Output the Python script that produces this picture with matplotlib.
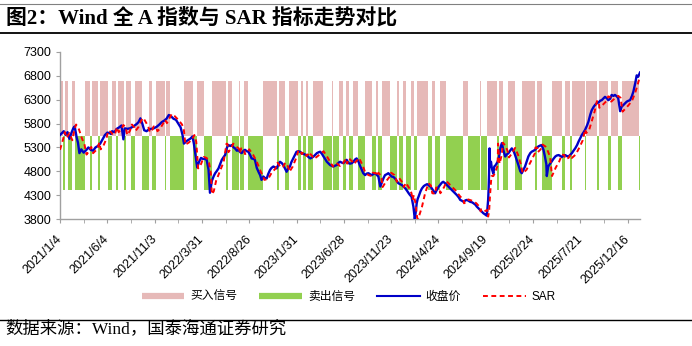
import numpy as np
import matplotlib.pyplot as plt
from matplotlib.lines import Line2D

plt.rcParams['font.family'] = ['Liberation Sans', 'Noto Sans CJK SC']

# ========================
# Datos
# ========================

n_days = 1227
tick_labels = ["2021/1/4", "2021/6/4", "2021/11/3", "2022/3/31", "2022/8/26",
               "2023/1/31", "2023/6/28", "2023/11/23", "2024/4/24", "2024/9/19",
               "2025/2/24", "2025/7/21", "2025/12/16"]

# (índice de día hábil, cierre Wind 全A)
close_pts = [
    (0, 5560), (4, 5600), (8, 5640), (12, 5560), (16, 5620), (20, 5480), (24, 5600), (28, 5700),
    (31, 5740), (35, 5520), (38, 5400), (41, 5180), (45, 5260), (50, 5190), (55, 5240), (60, 5300),
    (65, 5250), (70, 5230), (75, 5300), (80, 5330), (85, 5380), (90, 5470), (95, 5560), (100, 5610),
    (105, 5600), (108, 5580), (110, 5640), (115, 5620), (120, 5690), (125, 5720), (130, 5760),
    (134, 5470), (137, 5700), (142, 5690), (148, 5700), (155, 5740), (162, 5790), (166, 5830),
    (170, 5910), (174, 5800), (178, 5660), (183, 5640), (188, 5680), (193, 5690), (198, 5700),
    (204, 5730), (210, 5780), (215, 5830), (220, 5860), (225, 5900), (230, 5980), (235, 5950),
    (240, 5900), (245, 5880), (250, 5800), (255, 5720), (259, 5560), (262, 5380), (266, 5420),
    (270, 5450), (275, 5480), (280, 5530), (283, 5380), (287, 5100), (290, 4880), (294, 5000),
    (298, 5080), (302, 5060), (306, 5060), (310, 5040), (314, 4830), (317, 4350), (321, 4600),
    (325, 4700), (328, 4760), (331, 4800), (335, 4860), (339, 4960), (342, 5040), (346, 5100),
    (349, 5140), (353, 5300), (356, 5350), (360, 5330), (363, 5350), (367, 5300), (370, 5280),
    (374, 5230), (377, 5250), (381, 5200), (384, 5180), (388, 5230), (391, 5250), (395, 5220),
    (398, 5210), (402, 5140), (405, 5070), (409, 5060), (412, 5040), (416, 4870), (420, 4780),
    (423, 4720), (426, 4620), (430, 4690), (433, 4660), (437, 4650), (440, 4740), (444, 4830),
    (447, 4870), (451, 4900), (455, 4880), (458, 4860), (462, 4950), (465, 5000), (469, 4970),
    (472, 4930), (476, 4850), (479, 4790), (482, 4850), (486, 4900), (489, 4990), (493, 5070),
    (497, 5150), (500, 5210), (504, 5220), (507, 5210), (511, 5180), (514, 5170), (518, 5150),
    (522, 5140), (525, 5100), (529, 5070), (533, 5090), (536, 5110), (540, 5150), (543, 5180),
    (547, 5200), (550, 5210), (554, 5160), (557, 5110), (561, 5050), (564, 5000), (568, 4960),
    (571, 4930), (575, 4910), (578, 4900), (582, 4920), (585, 4930), (589, 4980), (592, 5000),
    (596, 4980), (599, 4970), (603, 5010), (606, 5040), (610, 4970), (613, 4960), (617, 4970),
    (620, 5000), (624, 5050), (627, 5070), (631, 5000), (634, 4920), (638, 4830), (641, 4760),
    (645, 4720), (648, 4750), (652, 4760), (655, 4740), (659, 4720), (662, 4740), (666, 4760),
    (670, 4720), (673, 4690), (677, 4480), (681, 4580), (684, 4660), (687, 4720), (691, 4740),
    (694, 4760), (698, 4720), (701, 4690), (705, 4680), (708, 4650), (712, 4600), (715, 4550),
    (719, 4530), (723, 4510), (726, 4480), (730, 4440), (733, 4400), (737, 4340), (740, 4300),
    (743, 4270), (747, 4060), (750, 3800), (752, 3950), (754, 4130), (756, 4220), (758, 4270),
    (762, 4380), (765, 4440), (769, 4490), (772, 4510), (776, 4530), (779, 4510), (783, 4480),
    (786, 4440), (790, 4380), (793, 4340), (796, 4400), (800, 4470), (803, 4510), (807, 4560),
    (810, 4580), (814, 4550), (818, 4510), (821, 4480), (825, 4440), (829, 4400), (832, 4370),
    (836, 4330), (839, 4300), (843, 4250), (846, 4200), (850, 4180), (853, 4160), (857, 4190),
    (860, 4200), (864, 4180), (867, 4160), (871, 4150), (874, 4130), (878, 4100), (881, 4060),
    (885, 4020), (888, 3990), (892, 3950), (895, 3920), (898, 3900), (902, 3870), (903, 3960),
    (905, 4200), (906, 4420), (907, 4750), (908, 5280), (909, 4900), (911, 5000), (913, 4850),
    (916, 4750), (918, 4900), (921, 4930), (925, 5000), (928, 5100), (931, 5300), (934, 5390),
    (937, 5250), (941, 5110), (944, 5150), (948, 5180), (952, 5240), (955, 5280), (959, 5220),
    (962, 5140), (966, 5020), (969, 4930), (973, 4800), (976, 4760), (980, 4840), (983, 4900),
    (987, 5020), (990, 5110), (994, 5180), (997, 5210), (1001, 5230), (1004, 5250), (1008, 5290),
    (1011, 5320), (1015, 5340), (1018, 5350), (1022, 5250), (1025, 5110), (1028, 4950),
    (1029, 4700), (1032, 4900), (1036, 4960), (1039, 5000), (1043, 5060), (1047, 5110),
    (1050, 5130), (1054, 5140), (1058, 5120), (1061, 5100), (1064, 5130), (1068, 5140),
    (1071, 5120), (1075, 5110), (1078, 5140), (1082, 5180), (1086, 5240), (1089, 5280),
    (1093, 5350), (1096, 5420), (1100, 5500), (1103, 5560), (1107, 5620), (1110, 5670),
    (1114, 5760), (1117, 5840), (1121, 5990), (1124, 6080), (1128, 6150), (1131, 6190),
    (1135, 6230), (1138, 6240), (1142, 6280), (1145, 6290), (1149, 6330), (1152, 6360),
    (1156, 6330), (1159, 6290), (1163, 6320), (1166, 6400), (1170, 6380), (1173, 6400),
    (1177, 6370), (1180, 6330), (1184, 6060), (1187, 6150), (1191, 6190), (1195, 6230),
    (1198, 6260), (1202, 6280), (1205, 6290), (1209, 6380), (1212, 6470), (1216, 6650),
    (1219, 6810), (1222, 6780), (1226, 6870),
]

# (índice de día hábil, SAR)
sar_pts = [
    (0, 5250), (6, 5450), (10, 5620), (14, 5500), (20, 5600), (26, 5450), (30, 5650), (34, 5780),
    (40, 5680), (46, 5500), (52, 5350), (56, 5150), (62, 5230), (66, 5310), (70, 5180), (76, 5240),
    (80, 5300), (83, 5400), (86, 5260), (92, 5340), (98, 5480), (102, 5650), (108, 5620),
    (112, 5560), (117, 5600), (120, 5720), (124, 5620), (130, 5690), (134, 5770), (139, 5720),
    (142, 5560), (148, 5650), (152, 5780), (157, 5720), (160, 5650), (166, 5730), (172, 5870),
    (176, 5920), (182, 5820), (187, 5720), (190, 5620), (195, 5670), (198, 5740), (203, 5720),
    (206, 5640), (212, 5700), (218, 5800), (222, 5880), (226, 5810), (232, 5920), (236, 6000),
    (242, 5960), (250, 5880), (258, 5780), (262, 5650), (265, 5360), (272, 5400), (280, 5480),
    (284, 5560), (288, 5420), (292, 4860), (298, 4950), (304, 5100), (310, 5080), (315, 4980),
    (319, 4750), (321, 4320), (325, 4380), (330, 4600), (338, 4800), (346, 5000), (352, 5380),
    (354, 5370), (356, 5200), (362, 5290), (366, 5380), (372, 5320), (378, 5280), (380, 5180),
    (383, 5280), (389, 5260), (391, 5160), (396, 5190), (400, 5260), (408, 5150), (416, 5000),
    (424, 4800), (429, 4700), (432, 4620), (440, 4640), (448, 4780), (455, 4850), (460, 4980),
    (463, 4940), (466, 4880), (472, 4900), (476, 4980), (482, 4900), (485, 4790), (492, 4900),
    (500, 5100), (504, 5240), (509, 5220), (511, 5160), (515, 5200), (519, 5180), (521, 5120),
    (524, 5150), (526, 5200), (533, 5120), (537, 5060), (545, 5120), (552, 5180), (557, 5220),
    (565, 5100), (572, 4980), (577, 4900), (579, 4950), (586, 4960), (592, 4910), (598, 4950),
    (600, 5000), (605, 5060), (607, 4960), (611, 5070), (618, 5000), (621, 4950), (628, 5030),
    (632, 5080), (640, 4920), (645, 4780), (652, 4720), (659, 4700), (661, 4770), (668, 4760),
    (670, 4700), (673, 4770), (679, 4700), (682, 4470), (690, 4600), (698, 4700), (700, 4770),
    (707, 4720), (712, 4580), (717, 4660), (724, 4560), (727, 4470), (731, 4560), (738, 4450),
    (743, 4340), (745, 4200), (748, 4300), (752, 4100), (755, 3820), (757, 3800), (765, 4050),
    (772, 4350), (779, 4550), (784, 4500), (787, 4340), (793, 4330), (795, 4460), (802, 4420),
    (804, 4340), (812, 4470), (817, 4590), (826, 4500), (836, 4400), (846, 4270), (853, 4210),
    (854, 4130), (861, 4170), (863, 4210), (872, 4180), (880, 4130), (888, 4040), (889, 3960),
    (891, 4000), (897, 3960), (903, 3990), (905, 3850), (907, 3950), (909, 4300), (912, 4700),
    (916, 4700), (920, 4780), (925, 4920), (926, 5380), (929, 4960), (934, 5150), (936, 5400),
    (942, 5330), (947, 5200), (949, 5090), (955, 5170), (962, 5290), (968, 5150), (974, 4950),
    (978, 4760), (986, 4830), (995, 5000), (1004, 5180), (1005, 5300), (1009, 5290),
    (1010, 5200), (1016, 5260), (1020, 5360), (1026, 5320), (1030, 5250), (1036, 5100),
    (1040, 4700), (1048, 4880), (1055, 5000), (1061, 5150), (1066, 5140), (1068, 5060),
    (1075, 5080), (1079, 5150), (1082, 5080), (1090, 5150), (1098, 5300), (1105, 5450),
    (1110, 5680), (1112, 5600), (1118, 5650), (1124, 5850), (1130, 6050), (1135, 6270),
    (1139, 6260), (1140, 6130), (1148, 6200), (1155, 6270), (1159, 6370), (1164, 6350),
    (1165, 6260), (1172, 6320), (1180, 6380), (1185, 6340), (1189, 6050), (1196, 6120),
    (1203, 6200), (1210, 6300), (1216, 6450), (1222, 6650), (1226, 6800),
]

# Días en que cambia la señal; empieza en "买入" (compra) y alterna
switch_idx = [7, 12, 18, 26, 33, 54, 63, 68, 80, 85, 102, 111, 118, 123, 135, 140, 150, 159,
              174, 188, 196, 204, 222, 225, 233, 263, 282, 291, 304, 321, 352, 355, 365, 379,
              382, 390, 398, 430, 459, 463, 476, 485, 504, 510, 515, 520, 525, 536, 557, 576,
              578, 591, 599, 606, 611, 620, 631, 645, 660, 669, 672, 681, 699, 712, 717, 726,
              731, 743, 748, 756, 779, 786, 794, 803, 817, 853, 862, 888, 891, 904, 925, 929,
              936, 948, 962, 978, 1004, 1009, 1020, 1040, 1061, 1068, 1079, 1082, 1110, 1112,
              1135, 1140, 1159, 1165, 1180, 1189, 1225]

buy_band = (5550, 6700)
sell_band = (4400, 5550)

# ========================
# Gráfico
# ========================

fig = plt.figure(figsize=(6.92, 3.46), dpi=100)
ax = fig.add_axes([60 / 692, 1 - 219 / 346, 580 / 692, 167 / 346])

edges = [0] + switch_idx + [n_days]
for k in range(len(edges) - 1):
    if k % 2 == 0:
        lo, hi, col = buy_band[0], buy_band[1], "#E6B9B8"
    else:
        lo, hi, col = sell_band[0], sell_band[1], "#92D050"
    ax.bar(edges[k] - 0.5, hi - lo, width=edges[k + 1] - edges[k], bottom=lo,
           align="edge", color=col, linewidth=0, zorder=1)

cx, cy = np.array(close_pts).T
sx, sy = np.array(sar_pts).T
ax.plot(cx, cy, color="#0000C8", lw=1.7, zorder=3)
ax.plot(sx, sy, color="#FF0000", lw=1.4, ls=(0, (2.5, 1.8)), zorder=4)

ax.set_xlim(0, n_days - 1)
ax.set_ylim(3800, 7300)
ax.set_yticks(np.arange(3800, 7301, 500))
ax.set_xticks(np.arange(0, 1201, 100))
ax.set_xticklabels(tick_labels, rotation=45, ha="right", va="center",
                   rotation_mode="anchor", fontsize=9, family="Liberation Sans")
ax.set_xticks(np.arange(50, n_days, 100), minor=True)
for lab in ax.get_yticklabels():
    lab.set_family("Liberation Sans")
ax.tick_params(axis="y", labelsize=9, length=3, color="#A0A0A0", pad=3)
ax.tick_params(axis="x", which="both", length=3, color="#A0A0A0", pad=10)

for s in ["top", "right"]:
    ax.spines[s].set_visible(False)
for s in ["left", "bottom"]:
    ax.spines[s].set_color("#A0A0A0")
    ax.spines[s].set_linewidth(1.0)

handles = [
    Line2D([], [], color="#E6B9B8", lw=4.5, solid_capstyle="butt"),
    Line2D([], [], color="#92D050", lw=4.5, solid_capstyle="butt"),
    Line2D([], [], color="#0000C8", lw=1.5),
    Line2D([], [], color="#FF0000", lw=1.4, ls=(0, (2.5, 1.8))),
]
fig.legend(handles, ["买入信号", "卖出信号", "收盘价", "SAR"], loc="center",
           bbox_to_anchor=(0.504, 1 - 297 / 346), ncol=4, frameon=False,
           fontsize=8.5, handlelength=3.6, handletextpad=0.5, columnspacing=1.9)

serif_cjk = ["Liberation Serif", "Noto Sans CJK SC"]
fig.text(0.008, 1 - 18 / 346, "图2：Wind 全 A 指数与 SAR 指标走势对比", fontsize=15,
         fontweight="bold", family=serif_cjk, va="center", ha="left")
fig.text(0.008, 1 - 329 / 346, "数据来源：Wind，国泰海通证券研究", fontsize=12.5,
         family=serif_cjk, va="center", ha="left")

fig.add_artist(Line2D([0, 1], [1 - 4 / 346] * 2, color="#808080", lw=0.8,
                      transform=fig.transFigure))
fig.add_artist(Line2D([0, 1], [1 - 33 / 346] * 2, color="black", lw=1.3,
                      transform=fig.transFigure))
fig.add_artist(Line2D([0, 1], [1 - 320 / 346] * 2, color="black", lw=1.0,
                      transform=fig.transFigure))

fig.savefig("out.png", dpi=100)
